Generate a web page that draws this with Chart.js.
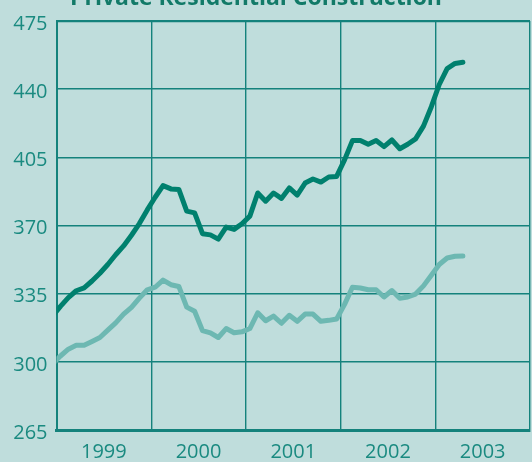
<!DOCTYPE html>
<html>
<head>
<meta charset="utf-8">
<script src="https://cdn.jsdelivr.net/npm/chart.js@4.4.1/dist/chart.umd.min.js"></script>
<style>
    html, body {
        margin: 0;
        padding: 0;
        width: 532px;
        height: 462px;
        overflow: hidden;
        background: #bfdddc;
    }
    #myChart {
        display: block;
    }
</style>
</head>
<body>
<canvas id="myChart" width="540" height="462"></canvas>
<script>
const chartTitle = "Private Residential Construction";
const yearLabels = ["1999", "2000", "2001", "2002", "2003"];
const yTicks = [265, 300, 335, 370, 405, 440, 475];

// monthly values, first one is Dec 1998
const firstYear = 1998;
const firstMonth = 12;

const darkSeries = [
    323.5, 328.5, 333, 336.5, 338, 341.5, 345.5, 350, 355, 359.5, 365, 371, 378,
    384.5, 390.5, 388.8, 388.5, 377.4, 376.5, 365.8, 365.2, 363, 369.2, 368, 370.9,
    374.8, 386.7, 382.5, 386.7, 383.9, 389.3, 385.6, 391.8, 393.9, 392.3, 394.9, 395.2,
    403.7, 413.6, 413.7, 411.7, 413.6, 410.5, 413.9, 409.4, 411.7, 414.5, 421, 431,
    442.4, 450.6, 453.2, 453.8
];

const lightSeries = [
    299, 303, 306.5, 308.5, 308.5, 310.5, 312.5, 316.3, 320, 324.5, 328, 332.7, 337,
    338.3, 342, 339.6, 338.7, 328.1, 326, 316, 314.9, 312.5, 317.1, 314.9, 315.4,
    317.1, 325.2, 321.1, 323.5, 319.8, 323.9, 320.8, 324.5, 324.5, 320.8, 321.3, 322,
    329.5, 338.3, 337.9, 337, 337, 333.3, 336.6, 332.6, 333.3, 334.8, 339, 344.5,
    350, 353.3, 354.2, 354.3
];

const gridColor = "#14827c";
const textColor = "#1a8a80";

function toPoints(values) {
    return values.map((v, i) => ({
        x: firstYear + (firstMonth - 1 + i + 0.5) / 12,
        y: v
    }));
}

const cutTitle = {
    id: "cutTitle",
    afterDraw(chart) {
        const c = chart.ctx;
        c.save();
        c.font = "bold 23px 'Open Sans'";
        c.fillStyle = "#127a68";
        c.textAlign = "center";
        c.textBaseline = "alphabetic";
        c.fillText(chartTitle, 256, 4.5);
        c.restore();
    }
};

function drawChart() {
    const ctx = document.getElementById("myChart");
    const firstTick = Number(yearLabels[0]);
    const lastTick = Number(yearLabels[yearLabels.length - 1]) + 1;

    new Chart(ctx, {
        type: "line",
        data: {
            datasets: [
                {
                    data: toPoints(lightSeries),
                    borderColor: "#6db8b2",
                    borderWidth: 5,
                    pointRadius: 0,
                    tension: 0,
                    borderJoinStyle: "round",
                    borderCapStyle: "round",
                    clip: 0
                },
                {
                    data: toPoints(darkSeries),
                    borderColor: "#00806e",
                    borderWidth: 5,
                    pointRadius: 0,
                    tension: 0,
                    borderJoinStyle: "round",
                    borderCapStyle: "round",
                    clip: 0
                }
            ]
        },
        options: {
            responsive: false,
            animation: false,
            layout: { padding: { top: 18.5, right: 1.3, left: 0, bottom: 0 } },
            plugins: {
                legend: { display: false },
                tooltip: { enabled: false }
            },
            scales: {
                x: {
                    type: "linear",
                    min: firstTick,
                    max: lastTick,
                    afterBuildTicks: scale => {
                        const t = [];
                        for (let v = firstTick; v <= lastTick; v += 0.5) t.push({ value: v });
                        scale.ticks = t;
                    },
                    afterFit: scale => { scale.height = 32; },
                    grid: {
                        drawTicks: false,
                        color: c => (c.tick && c.tick.value % 1 === 0) ? gridColor : "rgba(0,0,0,0)",
                        lineWidth: 1.4
                    },
                    border: { display: true, color: gridColor, width: 3 },
                    ticks: {
                        autoSkip: false,
                        maxRotation: 0,
                        padding: 10,
                        color: textColor,
                        font: { family: "'Open Sans'", size: 20 },
                        callback: v => (v % 1 === 0.5) ? yearLabels[Math.floor(v) - firstTick] : ""
                    }
                },
                y: {
                    min: yTicks[0],
                    max: yTicks[yTicks.length - 1],
                    afterBuildTicks: scale => {
                        scale.ticks = yTicks.map(v => ({ value: v }));
                    },
                    afterFit: scale => { scale.width = 56.5; },
                    grid: {
                        drawTicks: false,
                        color: gridColor,
                        lineWidth: c => (c.tick && c.tick.value === yTicks[yTicks.length - 1]) ? 2.2 : 1.4
                    },
                    border: { display: true, color: gridColor, width: 2 },
                    ticks: {
                        padding: 9,
                        labelOffset: 3,
                        color: textColor,
                        font: { family: "'Open Sans'", size: 20 }
                    }
                }
            }
        },
        plugins: [cutTitle]
    });
}

document.addEventListener("DOMContentLoaded", drawChart);
</script>
</body>
</html>
